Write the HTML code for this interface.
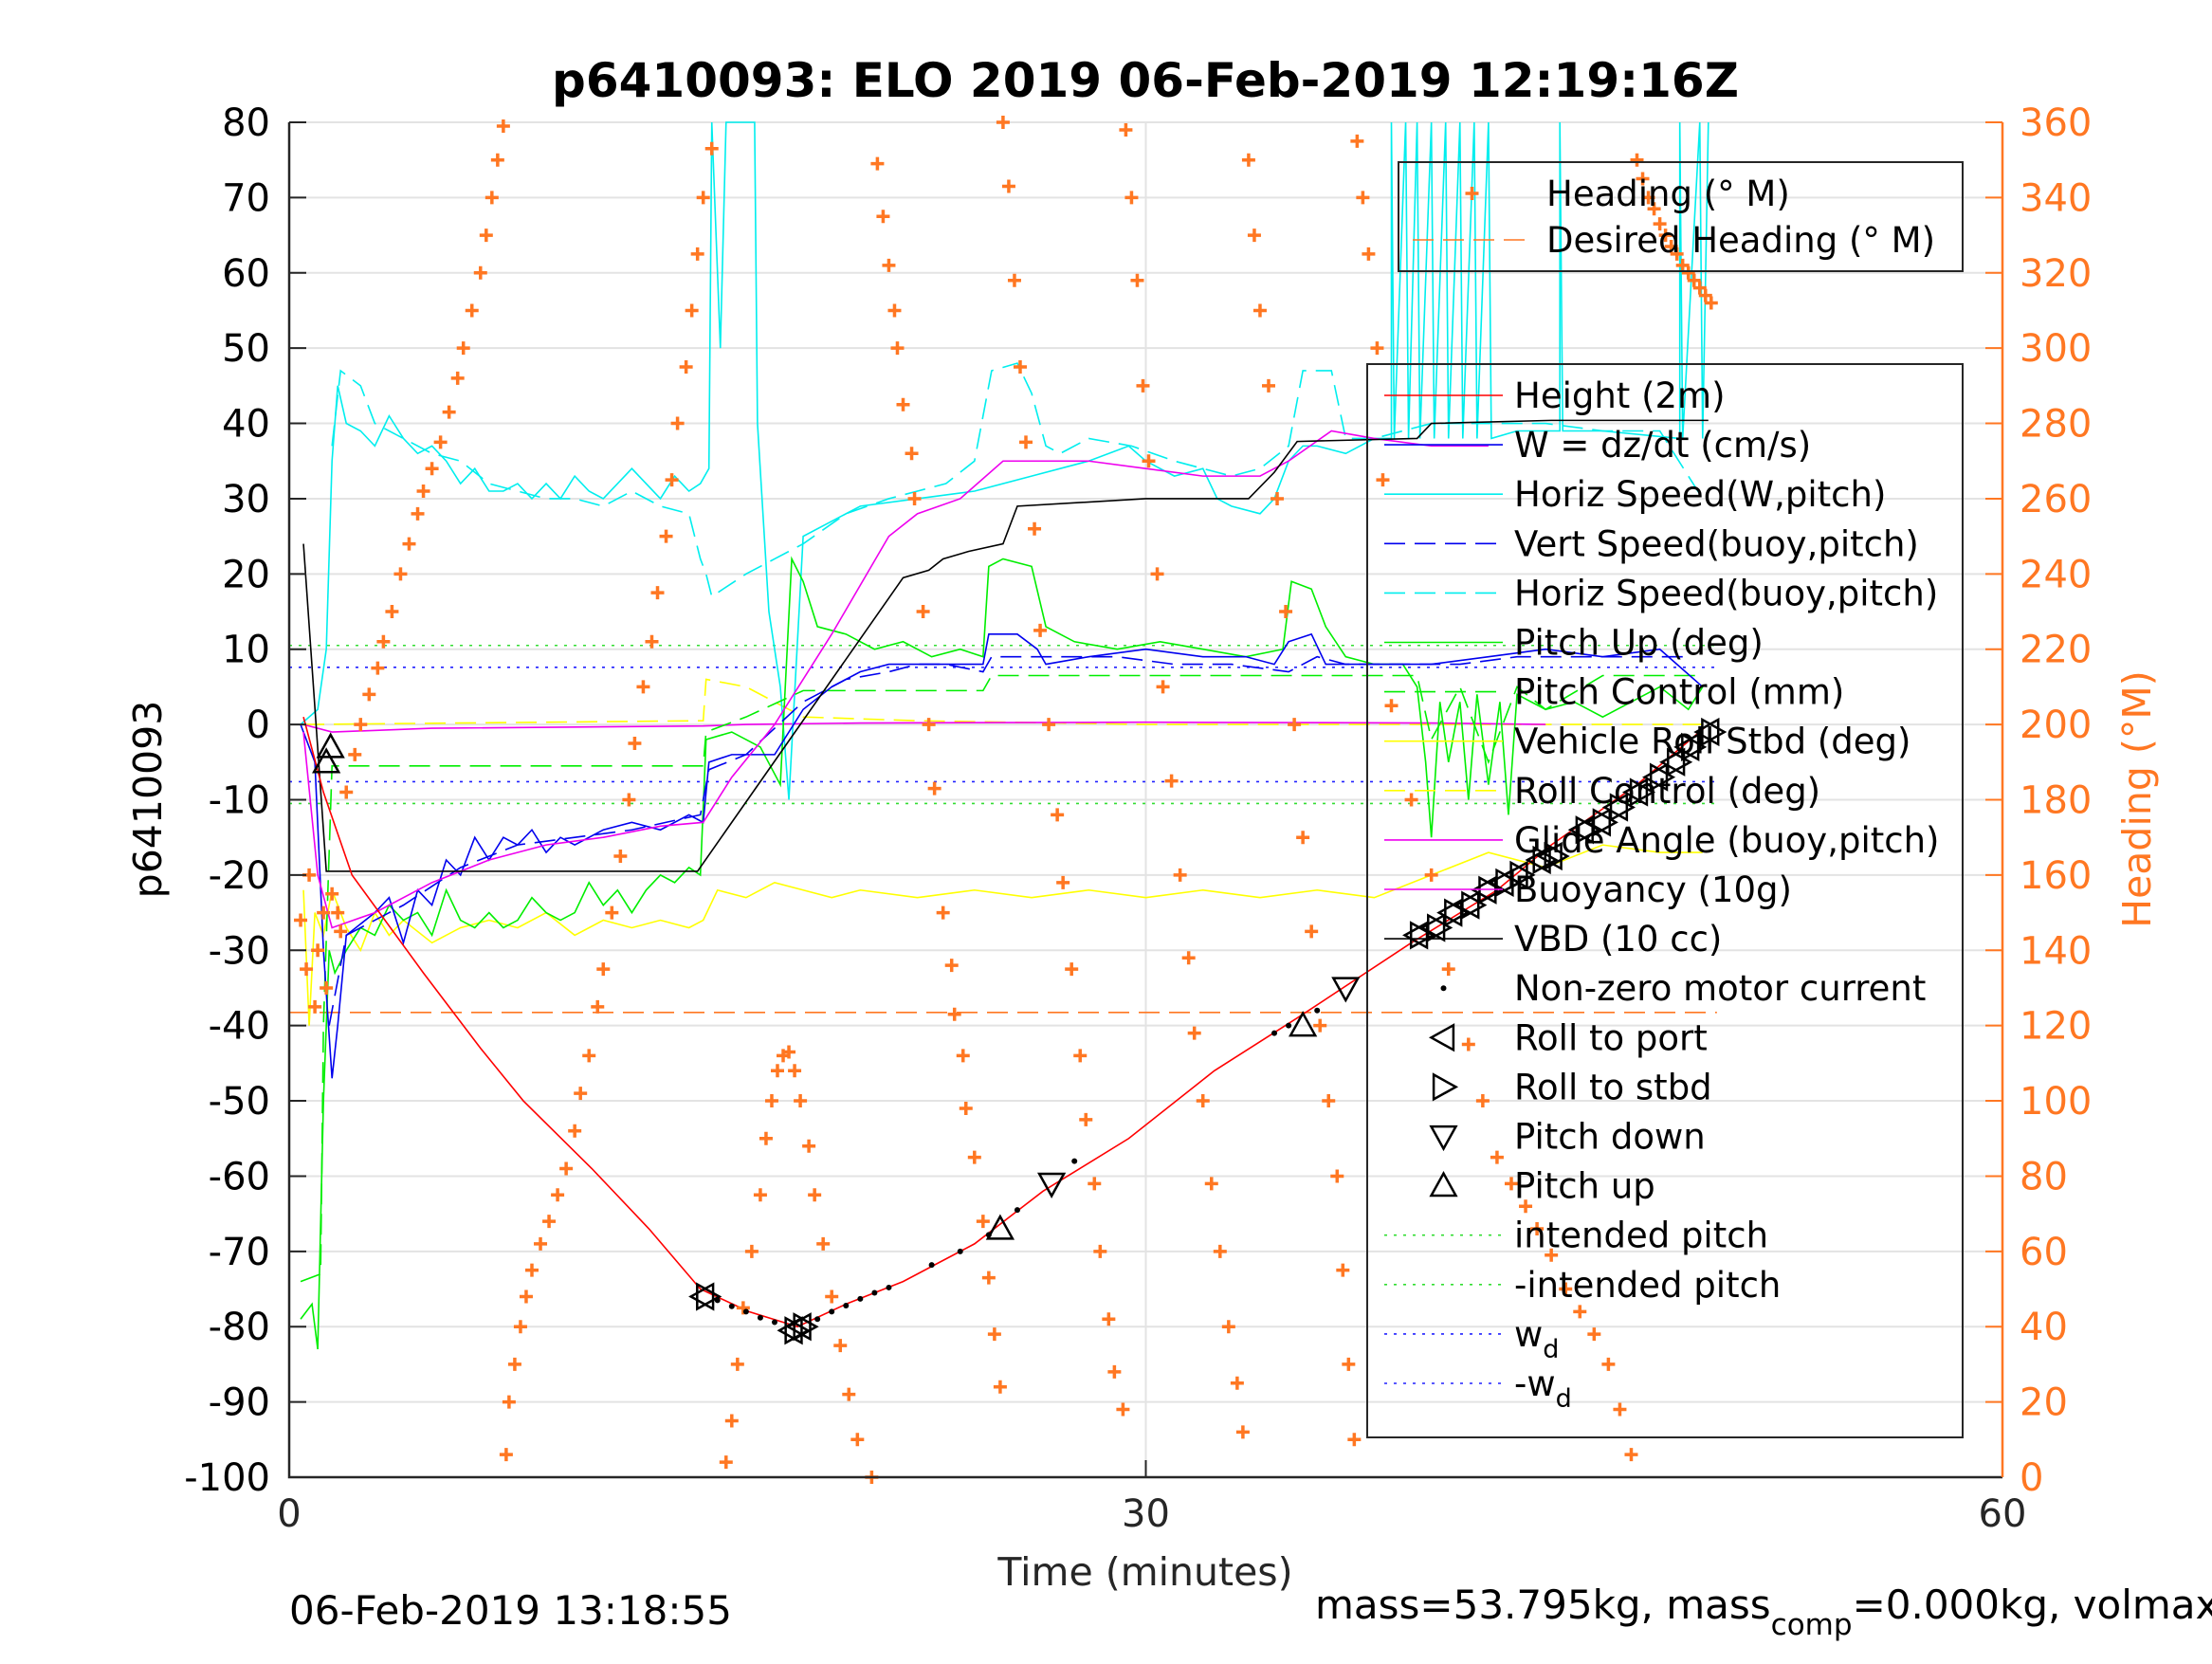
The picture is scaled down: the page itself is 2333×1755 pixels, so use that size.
<!DOCTYPE html>
<html><head><meta charset="utf-8"><style>
html,body{margin:0;padding:0;background:#fff;overflow:hidden}
svg text{font-family:"DejaVu Sans","Liberation Sans",sans-serif}
</style></head><body>
<svg id="chart" xmlns="http://www.w3.org/2000/svg" width="2333" height="1750" viewBox="0 0 2333 1750">
<rect width="2333" height="1750" fill="#fff"/>
<g id="grid"></g><g id="series"></g><g id="axes"></g><g id="legends"></g>
<text x="1208" y="102" text-anchor="middle" font-size="50" font-weight="bold">p6410093: ELO 2019 06-Feb-2019 12:19:16Z</text>
<text x="1208" y="1672" text-anchor="middle" font-size="41" fill="#262626">Time (minutes)</text>
<text transform="translate(170,843) rotate(-90)" text-anchor="middle" font-size="41">p6410093</text>
<text transform="translate(2268,843) rotate(-90)" text-anchor="middle" font-size="41" fill="#ff7722">Heading (°M)</text>
<text x="305" y="1713" font-size="42">06-Feb-2019 13:18:55</text>
<text x="1387" y="1707" font-size="42">mass=53.795kg, mass<tspan dy="17" font-size="31">comp</tspan><tspan dy="-17">=0.000kg, volmax</tspan></text>
</svg>
<script>
const xTicks=[0,30,60];
const yTicks=[80,70,60,50,40,30,20,10,0,-10,-20,-30,-40,-50,-60,-70,-80,-90,-100];
const hTicks=[0,20,40,60,80,100,120,140,160,180,200,220,240,260,280,300,320,340,360];
const height=[[0.5,1],[1.2,-9],[2.2,-20],[4.7,-33],[6.7,-43],[8.2,-50],[10.6,-59],[12.6,-67],[14.4,-75],[16.1,-78],[17.8,-80],[19.5,-77],[21.5,-74],[24,-69],[26.4,-62],[29.4,-55],[32.4,-46],[35.3,-39],[39.3,-29],[42.3,-22],[44.2,-16],[47.2,-8],[49.7,0]];
const vbd=[[0.5,24],[1.3,-19.5],[14.3,-19.5],[17.9,0],[21.5,19.5],[22.4,20.5],[22.9,22],[23.8,23],[25,24],[25.5,29],[30,30],[33.6,30],[34.5,33.5],[35.3,37.6],[39.5,38],[40,40],[44.2,40.4],[49.7,40.4]];
const pitchUp=[[0.4,-79],[0.8,-77],[1.0,-83],[1.2,-50],[1.4,-30],[1.6,-33],[2,-30],[2.5,-27],[3,-28],[3.5,-24],[4,-26],[4.5,-25],[5,-28],[5.5,-22],[6,-26],[6.5,-27],[7,-25],[7.5,-27],[8,-26],[8.5,-23],[9,-25],[9.5,-26],[10,-25],[10.5,-21],[11,-24],[11.5,-22],[12,-25],[12.5,-22],[13,-20],[13.5,-21],[14,-19],[14.4,-20],[14.6,-2],[15.5,-1],[16.5,-3],[17.2,-8],[17.6,22],[18,19],[18.5,13],[19.5,12],[20.5,10],[21.5,11],[22.5,9],[23.5,10],[24.3,9],[24.5,21],[25,22],[26,21],[26.5,13],[27.5,11],[29,10],[30.5,11],[32,10],[33.5,9],[34.8,10],[35.1,19],[35.8,18],[36.3,13],[37,9],[38,8],[39,8],[39.5,5],[39.8,-5],[40,-15],[40.3,3],[40.6,-5],[41,3],[41.3,-10],[41.6,4],[42,-8],[42.4,3],[42.7,-12],[43,4],[44,2],[45,3],[46,1],[47,3],[48,5],[49,2],[49.5,5]];
const pitchCtl=[[0.4,-74],[1.1,-73],[1.2,-40],[1.5,-5.5],[14.5,-5.5],[14.6,-1],[16,1],[18,4.5],[24.3,4.5],[24.6,6.5],[39.5,6.5],[40,-2],[41,5],[42,-5],[43,5],[44,2],[46,6.5],[49.5,6.5]];
const horizW=[[0.4,0],[1.0,2],[1.3,10],[1.5,35],[1.7,45],[2,40],[2.5,39],[3,37],[3.5,41],[4,38],[4.5,36],[5,37],[5.5,35],[6,32],[6.5,34],[7,31],[7.5,31],[8,32],[8.5,30],[9,32],[9.5,30],[10,33],[10.5,31],[11,30],[11.5,32],[12,34],[12.5,32],[13,30],[13.5,33],[14,31],[14.4,32],[14.7,34],[14.8,90],[15.1,50],[15.3,90],[16.3,90],[16.4,40],[16.8,15],[17.2,5],[17.5,-10],[18,25],[20,29],[22,30],[24,31],[26,33],[28,35],[29.4,37],[30,35],[31,33],[32,34],[32.5,30],[33,29],[34,28],[34.5,30],[35,35],[35.5,37],[36,37],[37,36],[38,38],[38.6,38],[38.6,90],[38.7,38],[39.1,90],[39.2,38],[39.5,90],[39.6,38],[40,90],[40.1,38],[40.5,90],[40.6,38],[41,90],[41.1,38],[41.5,90],[41.6,38],[42,90],[42.1,38],[43,39],[44.5,39],[44.5,90],[44.6,39],[46,39],[48.7,38],[48.7,90],[48.8,38],[49.4,90],[49.5,38],[49.7,90]];
const horizB=[[1.5,37],[1.8,47],[2.5,45],[3,40],[4,38],[5,36],[6,35],[7,32],[8,31],[9,30],[10,30],[11,29],[12,31],[13,29],[14,28],[14.4,22],[14.6,20],[14.8,17],[16,20],[17,22],[18,24],[19.5,28],[21,30],[22,31],[23,32],[24,35],[24.6,47],[25.5,48],[26,44],[26.5,37],[27,36],[28,38],[29.5,37],[31,35],[33,33],[34,34],[35,37],[35.5,47],[36.5,47],[37,38],[38,38],[40,40],[42,40],[44,40],[46,39],[48,39],[49.5,30]];
const wdzdt=[[0.4,0],[0.9,-5],[1.2,-30],[1.5,-47],[1.7,-40],[2,-28],[3,-25],[3.5,-23],[4,-29],[4.5,-22],[5,-24],[5.5,-18],[6,-20],[6.5,-15],[7,-18],[7.5,-15],[8,-16],[8.5,-14],[9,-17],[9.5,-15],[10,-16],[11,-14],[12,-13],[13,-14],[14,-12],[14.5,-13],[14.7,-5],[15.5,-4],[17,-4],[18,2],[19,5],[20,7],[21,8],[22,8],[23,8],[24.3,8],[24.5,12],[25.5,12],[26.2,10],[26.5,8],[28,9],[30,10],[32,9],[33.5,9],[34.5,8],[35,11],[35.8,12],[36.3,8],[37,8],[38,8],[40,8],[42,9],[44,10],[46,9],[48,10],[49.5,5]];
const vertB=[[1.4,-40],[2,-28],[4,-24],[6,-19],[8,-16],[10,-15],[12,-14],[14.4,-12],[14.7,-6],[16,-4],[18,3],[19.5,6],[21,7],[22,8],[23,8],[24.3,7],[24.6,9],[26,9],[27,9],[29,9],[31,8],[33,8],[35,7],[36,9],[37,8],[39,8],[41,8],[43,9],[45,9],[47,9],[49,9]];
const glide=[[0.5,-1],[1,-20],[1.5,-27],[3,-25],[5,-21],[7,-18],[9,-16],[11,-15],[13,-13.5],[14.5,-13],[15.5,-7],[17,0],[19,12],[21,25],[22,28],[23.5,30],[25,35],[26,35],[28,35],[30,34],[32,33],[34,33],[35,35],[36.5,39],[38,38],[40,37],[42,37]];
const buoy=[[0.5,0],[1.5,-1],[5,-0.5],[14.5,-0.2],[16,0],[20,0.2],[30,0.3],[40,0.2],[44,0]];
const roll=[[0.5,-22],[0.7,-40],[0.9,-25],[1.2,-28],[1.5,-22],[2,-27],[2.5,-30],[3,-25],[3.5,-28],[4,-26],[5,-29],[6,-27],[7,-26],[8,-27],[9,-25],[10,-28],[11,-26],[12,-27],[13,-26],[14,-27],[14.5,-26],[15,-22],[16,-23],[17,-21],[18,-22],[19,-23],[20,-22],[22,-23],[24,-22],[26,-23],[28,-22],[30,-23],[32,-22],[34,-23],[36,-22],[38,-23],[40,-20],[42,-17],[44,-19],[46,-16],[48,-17],[49.5,-17]];
const rollCtl=[[0.5,0],[14.5,0.5],[14.6,6],[16,5],[18,1],[22,0.5],[30,0],[40,0],[49.5,0]];
const desiredHeading=[[0,123.5],[50,123.5]];
const heading=[[0.4,148],[0.6,135],[0.7,160],[0.9,125],[1.0,140],[1.2,150],[1.3,130],[1.5,155],[1.7,150],[1.8,145],
[2.0,182],[2.3,192],[2.5,200],[2.8,208],[3.1,215],[3.3,222],[3.6,230],[3.9,240],[4.2,248],[4.5,256],[4.7,262],[5.0,268],[5.3,275],[5.6,283],[5.9,292],[6.1,300],[6.4,310],[6.7,320],[6.9,330],[7.1,340],[7.3,350],[7.5,359],
[7.6,6],[7.7,20],[7.9,30],[8.1,40],[8.3,48],[8.5,55],[8.8,62],[9.1,68],[9.4,75],[9.7,82],[10.0,92],[10.2,102],[10.5,112],[10.8,125],[11.0,135],[11.3,150],[11.6,165],[11.9,180],[12.1,195],[12.4,210],[12.7,222],[12.9,235],[13.2,250],[13.4,265],[13.6,280],[13.9,295],[14.1,310],[14.3,325],[14.5,340],[14.8,353],
[15.3,4],[15.5,15],[15.7,30],[15.9,45],[16.2,60],[16.5,75],[16.7,90],[16.9,100],[17.1,108],[17.3,112],[17.5,113],[17.7,108],[17.9,100],[18.2,88],[18.4,75],[18.7,62],[19.0,48],[19.3,35],[19.6,22],[19.9,10],[20.4,0],
[20.6,349],[20.8,335],[21.0,322],[21.2,310],[21.3,300],[21.5,285],[21.8,272],[21.9,260],[22.2,230],[22.4,200],[22.6,183],[22.9,150],[23.2,136],[23.3,123],[23.6,112],[23.7,98],[24.0,85],[24.3,68],[24.5,53],[24.7,38],[24.9,24],
[25.0,360],[25.2,343],[25.4,318],[25.6,295],[25.8,275],[26.1,252],[26.3,225],[26.6,200],[26.9,176],[27.1,158],[27.4,135],[27.7,112],[27.9,95],[28.2,78],[28.4,60],[28.7,42],[28.9,28],[29.2,18],
[29.3,358],[29.5,340],[29.7,318],[29.9,290],[30.1,270],[30.4,240],[30.6,210],[30.9,185],[31.2,160],[31.5,138],[31.7,118],[32.0,100],[32.3,78],[32.6,60],[32.9,40],[33.2,25],[33.4,12],
[33.6,350],[33.8,330],[34.0,310],[34.3,290],[34.6,260],[34.9,230],[35.2,200],[35.5,170],[35.8,145],[36.1,120],[36.4,100],[36.7,80],[36.9,55],[37.1,30],[37.3,10],
[37.4,355],[37.6,340],[37.8,325],[38.1,300],[38.3,265],[38.6,205],[39.3,180],[40.0,160],[40.6,135],[41.3,115],[41.8,100],[42.3,85],[42.8,78],[43.3,72],[43.7,66],[44.2,59],[44.7,50],[45.2,44],[45.7,38],[46.2,30],[46.6,18],[47.0,6],
[47.2,350],[47.4,345],[47.6,340],[47.8,337],[48.0,333],[48.2,330],[48.4,327],[48.6,325],[48.8,322],[49.0,320],[49.2,318],[49.4,316],[49.6,314],[49.8,312]];
const pitchUpMarks=[[1.3,-5],[1.45,-3],[24.9,-67],[35.5,-40]];
const pitchDownMarks=[[26.7,-61],[37,-35]];
const rollMarks=[[14.5,-76],[17.6,-80.5],[17.9,-80],[39.5,-28],[40.1,-27],[40.7,-25],[41.3,-24],[41.9,-22],[42.5,-21],[43.0,-20],[43.8,-18],[44.2,-17.5],[45.3,-14],[45.9,-13],[46.5,-11],[47.2,-9],[47.9,-7],[48.5,-5],[49.0,-3],[49.7,-1]];
const motorDots=[[15,-76.5],[15.5,-77.3],[16,-78],[16.5,-78.8],[17,-79.4],[18.5,-79],[19,-78],[19.5,-77.2],[20,-76.3],[20.5,-75.5],[21,-74.8],[22.5,-71.8],[23.5,-70],[24.5,-67.8],[25.5,-64.5],[27.5,-58],[34.5,-41],[35,-40],[36,-38]];
const pitchLines=[10.5,-10.5], wdLines=[7.6,-7.6];

const NS='http://www.w3.org/2000/svg';
const L=305,R=2112,T=129,B=1558;
function X(t){return L+(t-xTicks[0])*(R-L)/(xTicks[2]-xTicks[0]);}
function Y(v){return T+(80-v)*(B-T)/180;}
function YH(h){return B-h*(B-T)/360;}
function mk(tag,a,p){const e=document.createElementNS(NS,tag);for(const k in a)e.setAttribute(k,a[k]);(p||document.getElementById('series')).appendChild(e);return e;}
const grid=document.getElementById('grid'),axes=document.getElementById('axes'),leg=document.getElementById('legends');
yTicks.forEach(v=>{const g=mk('line',{x1:L,x2:R,y1:Y(v),y2:Y(v),stroke:'#e3e3e3','stroke-width':2},grid);


const tk=mk('line',{x1:L,x2:L+18,y1:Y(v),y2:Y(v),stroke:'#262626','stroke-width':2},axes);


const t=mk('text',{x:L-20,y:Y(v)+14,'text-anchor':'end','font-size':40},axes);t.textContent=v;

});
xTicks.forEach(t0=>{if(t0>0&&t0<60){const g=mk('line',{x1:X(t0),x2:X(t0),y1:T,y2:B,stroke:'#e3e3e3','stroke-width':2},grid);

}
const tk=mk('line',{x1:X(t0),x2:X(t0),y1:B,y2:B-18,stroke:'#262626','stroke-width':2},axes);


const t=mk('text',{x:X(t0),y:B+52,'text-anchor':'middle','font-size':40,fill:'#262626'},axes);t.textContent=t0;

});
hTicks.forEach(h=>{const tk=mk('line',{x1:R,x2:R-18,y1:YH(h),y2:YH(h),stroke:'#ff7722','stroke-width':2},axes);


const t=mk('text',{x:R+18,y:YH(h)+14,'font-size':40,fill:'#ff7722'},axes);t.textContent=h;

});
const ax=mk('path',{d:`M${L},${T}V${B}H${R}`,fill:'none',stroke:'#262626','stroke-width':2.5},axes);


const ax2=mk('line',{x1:R,x2:R,y1:T,y2:B,stroke:'#ff7722','stroke-width':2.5},axes);



function clipV(v){return Math.max(-100,Math.min(80,v));}
function line(data,color,dash,name,fy){const f=fy||Y;const p=mk('polyline',{points:data.map(d=>X(d[0])+','+f(fy?d[1]:clipV(d[1]))).join(' '),fill:'none',stroke:color,'stroke-width':1.6,'stroke-dasharray':dash||'none'});

}
pitchLines.forEach(v=>line([[0,v],[50,v]],'#33dd33','3 7','intended-pitch-line'));
wdLines.forEach(v=>line([[0,v],[50,v]],'#2222ff','3 7','wd-line'));
line(desiredHeading,'#ff7722','22 10','desired-heading-line',YH);
line(rollCtl,'#ffff00','22 10','roll-control-line');
line(roll,'#ffff00',null,'vehicle-roll-line');
line(buoy,'#ee00ee',null,'buoyancy-line');
line(horizB,'#00eeee','22 10','horiz-speed-buoy-line');
line(horizW,'#00eeee',null,'horiz-speed-w-line');
line(pitchCtl,'#00ee00','22 10','pitch-control-line');
line(pitchUp,'#00ee00',null,'pitch-up-line');
line(vertB,'#0000ee','22 10','vert-speed-line');
line(wdzdt,'#0000ee',null,'w-dzdt-line');
line(glide,'#ee00ee',null,'glide-angle-line');
line(vbd,'#000',null,'vbd-line');
line(height,'#ff0000',null,'height-line');
heading.forEach(d=>{const x=X(d[0]),y=YH(d[1]);const p=mk('path',{d:`M${x-7},${y}H${x+7}M${x},${y-7}V${y+7}`,stroke:'#ff7722','stroke-width':3.5});

});
motorDots.forEach(d=>{const c=mk('circle',{cx:X(d[0]),cy:Y(d[1]),r:3,fill:'#000'});

});
function tri(x,y,dir,parent){const s=13;let pts;
if(dir=='up')pts=[[x,y-s],[x-s,y+s*0.8],[x+s,y+s*0.8]];else if(dir=='down')pts=[[x,y+s],[x-s,y-s*0.8],[x+s,y-s*0.8]];
else if(dir=='left')pts=[[x-s,y],[x+s*0.8,y-s],[x+s*0.8,y+s]];else pts=[[x+s,y],[x-s*0.8,y-s],[x-s*0.8,y+s]];
return mk('polygon',{points:pts.map(p=>p.join(',')).join(' '),fill:'none',stroke:'#000','stroke-width':2.5},parent);}
pitchUpMarks.forEach(d=>{const e=tri(X(d[0]),Y(d[1]),'up');

});
pitchDownMarks.forEach(d=>{const e=tri(X(d[0]),Y(d[1]),'down');

});
rollMarks.forEach(d=>{const a=tri(X(d[0]),Y(d[1]),'left');


const b=tri(X(d[0])+4,Y(d[1]),'right');

});

function box(x,y,w,h,name){const r=mk('rect',{x:x,y:y,width:w,height:h,fill:'none',stroke:'#262626','stroke-width':2},leg);

}
box(1475,171,595,115,'heading-legend');
box(1442,384,628,1132,'main-legend');
function entry(y,label,color,dash,marker,name,tx,sx1,sx2){
tx=tx||1597;sx1=sx1||1460;sx2=sx2||1585;const mx=(sx1+sx2)/2;
if(color){const l=mk('line',{x1:sx1,x2:sx2,y1:y,y2:y,stroke:color,'stroke-width':1.6,'stroke-dasharray':dash||'none'},leg);

}
if(marker=='plus'){const p=mk('path',{d:`M${mx-7},${y}h14M${mx},${y-7}v14`,stroke:'#ff7722','stroke-width':3.5},leg);

}
else if(marker=='dot'){const c=mk('circle',{cx:mx,cy:y,r:3,fill:'#000'},leg);

}
else if(marker){const e=tri(mx,y,marker,leg);

}
const t=mk('text',{x:tx,y:y+13,'font-size':37},leg);t.innerHTML=label;

}
entry(204,'Heading (° M)',null,null,'plus','legend-heading',1631,1490,1615);
entry(253,'Desired Heading (° M)','#ff7722','22 10',null,'legend-desired-heading',1631,1490,1615);
const items=[['Height (2m)','#ff0000',null,null],['W = dz/dt (cm/s)','#0000ee',null,null],['Horiz Speed(W,pitch)','#00eeee',null,null],['Vert Speed(buoy,pitch)','#0000ee','22 10',null],['Horiz Speed(buoy,pitch)','#00eeee','22 10',null],['Pitch Up (deg)','#00ee00',null,null],['Pitch Control (mm)','#00ee00','22 10',null],['Vehicle Roll Stbd (deg)','#ffff00',null,null],['Roll Control (deg)','#ffff00','22 10',null],['Glide Angle (buoy,pitch)','#ee00ee',null,null],['Buoyancy (10g)','#ee00ee',null,null],['VBD (10 cc)','#000',null,null],['Non-zero motor current',null,null,'dot'],['Roll to port',null,null,'left'],['Roll to stbd',null,null,'right'],['Pitch down',null,null,'down'],['Pitch up',null,null,'up'],['intended pitch','#33dd33','3 7',null],['-intended pitch','#33dd33','3 7',null],['w<tspan dy="12" font-size="27">d</tspan>','#2222ff','3 7',null],['-w<tspan dy="12" font-size="27">d</tspan>','#2222ff','3 7',null]];
items.forEach((it,i)=>entry(417+i*52.1,it[0],it[1],it[2],it[3],'legend-entry-'+i));
</script>
</body></html>
